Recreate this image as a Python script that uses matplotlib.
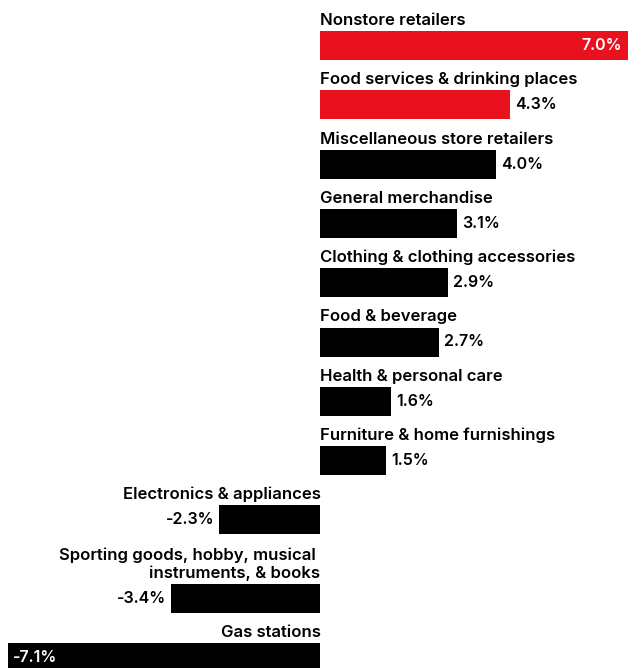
import matplotlib
matplotlib.use("Agg")
import matplotlib.pyplot as plt

# retail sales change by category
categories = [
    "Nonstore retailers",
    "Food services & drinking places",
    "Miscellaneous store retailers",
    "General merchandise",
    "Clothing & clothing accessories",
    "Food & beverage",
    "Health & personal care",
    "Furniture & home furnishings",
    "Electronics & appliances",
    "Sporting goods, hobby, musical \ninstruments, & books",
    "Gas stations",
]
values = [7.0, 4.3, 4.0, 3.1, 2.9, 2.7, 1.6, 1.5, -2.3, -3.4, -7.1]
highlight = [True, True, False, False, False, False, False, False, False, False, False]

RED = "#E8111D"
BLACK = "#000000"

plt.rcParams['font.family'] = ['Inter', 'DejaVu Sans']

fig = plt.figure(figsize=(6.28, 6.68), dpi=100)
ax = fig.add_axes([0, 0, 1, 1])
ax.set_xlim(-7.284, 6.99)
ax.set_ylim(668, 0)  # y in pixel-like rows, top down
ax.axis('off')

step = 59.3
extra_line = 19.5
bar_h = 29
y = 45.5
centers = []
for lab in categories:
    y += (lab.count("\n")) * extra_line
    centers.append(y)
    y += step

colors = [RED if h else BLACK for h in highlight]
ax.barh(centers, values, height=bar_h, color=colors)

# px per data unit along x
px = 628 / (6.99 + 7.284)

for lab, v, c in zip(categories, values, centers):
    top = c - bar_h / 2
    ha = 'left' if v >= 0 else 'right'
    ax.text(0, top - 6, lab, ha=ha, va='baseline', fontsize=12,
            fontweight='semibold', multialignment=ha, linespacing=1.2)
    txt = f"{v:.1f}%"
    if abs(v) >= 7:
        # label sits inside the long bars
        if v > 0:
            ax.text(v - 6 / px, c, txt, ha='right', va='center', color='white',
                    fontsize=11.5, fontweight='semibold')
        else:
            ax.text(v + 5 / px, c, txt, ha='left', va='center', color='white',
                    fontsize=11.5, fontweight='semibold')
    elif v > 0:
        ax.text(v + 5 / px, c, txt, ha='left', va='center',
                fontsize=11.5, fontweight='semibold')
    else:
        ax.text(v - 5 / px, c, txt, ha='right', va='center',
                fontsize=11.5, fontweight='semibold')

fig.savefig("out.png", dpi=100)
